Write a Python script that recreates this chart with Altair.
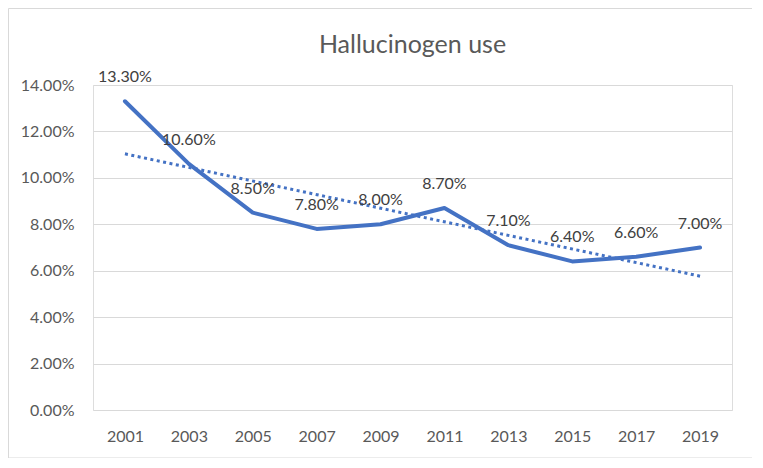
import altair as alt
import pandas as pd

# ---- data ----
years = [2001, 2003, 2005, 2007, 2009, 2011, 2013, 2015, 2017, 2019]
values = [0.133, 0.106, 0.085, 0.078, 0.080, 0.087, 0.071, 0.064, 0.066, 0.070]
y_ticks = [0.0, 0.02, 0.04, 0.06, 0.08, 0.10, 0.12, 0.14]
title_text = "Hallucinogen use"

df = pd.DataFrame({"year": years, "value": values})

FONT = "Lato"
BLUE = "#4472C4"
GREY_TXT = "#595959"

x_enc = alt.X(
    "year:Q",
    scale=alt.Scale(domain=[2000, 2020], nice=False, zero=False),
    axis=alt.Axis(values=years, format="d", grid=False, domain=False, ticks=False,
                  labelPadding=18, labelFontSize=16, labelColor=GREY_TXT,
                  labelFont=FONT, title=None),
)
y_enc = alt.Y(
    "value:Q",
    scale=alt.Scale(domain=[0, 0.14], nice=False),
    axis=alt.Axis(values=y_ticks, format=".2%", domain=False, ticks=False,
                  gridColor="#d9d9d9", gridWidth=1, labelPadding=19,
                  labelFontSize=16, labelColor=GREY_TXT, labelFont=FONT, title=None),
)

base = alt.Chart(df)

frame = alt.Chart(pd.DataFrame({"f": [0]})).mark_rect(
    fillOpacity=0, stroke="#d9d9d9", strokeWidth=1
).encode(x=alt.value(-84.5), x2=alt.value(662), y=alt.value(-76.5), y2=alt.value(373))

trend = base.transform_regression("year", "value").mark_line(
    color=BLUE, strokeWidth=3, strokeDash=[3, 3.5]
).encode(x=x_enc, y=y_enc)

line = base.mark_line(color=BLUE, strokeWidth=4, strokeJoin="round", strokeCap="round").encode(
    x=x_enc, y=y_enc
)

labels = base.mark_text(
    dy=-19, baseline="alphabetic", fontSize=16, color="#404040", font=FONT
).encode(x=x_enc, y=y_enc, text=alt.Text("value:Q", format=".2%"))

chart = alt.layer(frame, trend, line, labels).properties(
    width=639,
    height=325,
    autosize=alt.AutoSizeParams(type="none"),
    padding={"left": 85, "top": 77, "right": 20, "bottom": 48},
    title=alt.TitleParams(title_text, fontSize=25, font=FONT, color=GREY_TXT,
                          fontWeight="normal", anchor="middle", baseline="alphabetic",
                          offset=0, dy=70),
).configure_view(stroke=None).configure(background="white")

chart.save("out.html", embed_options={"renderer": "svg", "actions": False})
